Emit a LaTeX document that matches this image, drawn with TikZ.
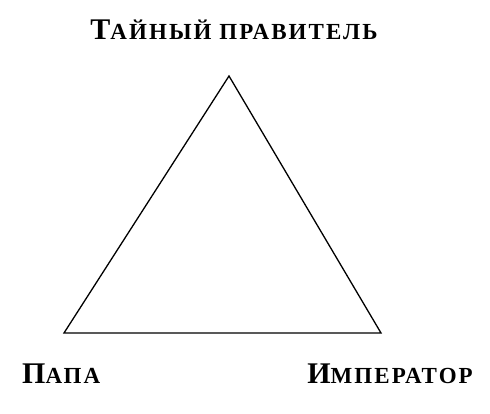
\documentclass[tikz,border=0pt]{standalone}
\usepackage{fontspec}
\setmainfont{Liberation Serif}
\newfontfamily\labelfont[LetterSpace=9]{Liberation Serif}
\usetikzlibrary{positioning}
% capital + small capitals
\newcommand{\capword}[2]{{\labelfont\bfseries\fontsize{30}{30}\selectfont #1}{\labelfont\bfseries\fontsize{23}{23}\selectfont #2}}

\begin{document}
\begin{tikzpicture}[x=1pt, y=1pt,
		side/.style={draw, line width=1.3pt, line join=miter},  % triangle sides
		label/.style={inner sep=0pt, text=black}  % vertex labels
		]
		\useasboundingbox (0,0) rectangle (490,413);
		% Vertices
		\coordinate (ruler) at (229,337);
		\coordinate (pope) at (64,80);
		\coordinate (emperor) at (381,80);
		% Triangle
		\draw[side] (ruler) -- (pope) -- (emperor) -- cycle;
		% Labels
		\node[label, anchor=base] (rulertext) at (234,373) {\capword{Т}{АЙНЫЙ ПРАВИТЕЛЬ}};
		\node[label, anchor=base west] (popetext) at (22,30) {\capword{П}{АПА}};
		\node[label, anchor=base east] (emperortext) at (473,30) {\capword{И}{МПЕРАТОР}};
	\end{tikzpicture}
\end{document}
